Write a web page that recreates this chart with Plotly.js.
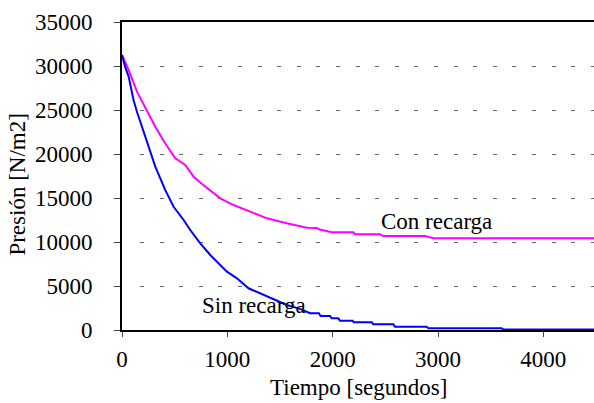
<!DOCTYPE html>
<html>
<head>
<meta charset="utf-8">
<script src="https://cdn.plot.ly/plotly-3.0.1.min.js"></script>
<style>
html,body{margin:0;padding:0;background:#fff;overflow:hidden;}
</style>
</head>
<body>
<div id="chart"></div>
<script>
// Sin recarga (blue)
var tSin = [0, 30, 63, 110, 142, 190, 253, 316, 411, 490, 585, 648, 743, 838, 996, 1091, 1201, 1376, 1565, 1690, 1785, 1870, 1885, 1975, 1991, 2053, 2070, 2190, 2200, 2371, 2386, 2576, 2592, 2893, 2908, 3605, 3620, 4481];
var pSin = [31250, 29900, 28800, 26100, 24800, 23100, 20800, 18560, 15900, 14000, 12500, 11360, 9850, 8520, 6625, 5870, 4740, 3785, 2840, 2400, 1900, 1900, 1590, 1590, 1325, 1325, 1060, 1060, 870, 870, 645, 645, 380, 380, 200, 200, 60, 60];
// Con recarga (magenta)
var tCon = [0, 63, 142, 221, 316, 411, 506, 600, 680, 760, 838, 933, 1059, 1217, 1376, 1564, 1754, 1850, 1870, 1991, 2196, 2212, 2449, 2481, 2877, 2956, 4481];
var pCon = [31250, 29550, 27080, 25190, 23100, 21200, 19500, 18750, 17420, 16600, 15900, 14960, 14200, 13450, 12690, 12125, 11630, 11600, 11450, 11100, 11100, 10870, 10870, 10680, 10680, 10420, 10420];
// tick values and labels
var xTicks = [0, 1000, 2000, 3000, 4000];
var yTicks = [0, 5000, 10000, 15000, 20000, 25000, 30000, 35000];
var seriesNames = ['Con recarga', 'Sin recarga'];
var xTitle = 'Tiempo [segundos]';
var yTitle = 'Presión [N/m2]';

var FONT = 'Liberation Serif';
var FS = 23;
var dash = '0px,18px';
for (var i = 0; i < 26; i++) dash += ',4px,15.6px';

var traces = [
  {x: tCon, y: pCon, type: 'scatter', mode: 'lines', name: seriesNames[0],
   line: {color: '#FF00FF', width: 2}},
  {x: tSin, y: pSin, type: 'scatter', mode: 'lines', name: seriesNames[1],
   line: {color: '#0000FF', width: 2}}
];

var layout = {
  width: 594, height: 403,
  margin: {l: 122, r: 0, t: 22, b: 73, pad: 0},
  paper_bgcolor: '#fff', plot_bgcolor: '#fff',
  showlegend: false,
  xaxis: {
    range: [0, 4481], tickvals: xTicks, ticktext: xTicks.map(String),
    showline: true, linecolor: '#000', linewidth: 2, mirror: true,
    ticks: 'outside', ticklen: 5, tickwidth: 1, tickcolor: '#444',
    showgrid: false, zeroline: false, ticklabelstandoff: 2,
    tickfont: {family: FONT, size: FS, color: '#000'}
  },
  yaxis: {
    range: [0, 35000], tickvals: yTicks, ticktext: yTicks.map(String),
    showline: true, linecolor: '#000', linewidth: 2,
    ticks: 'outside', ticklen: 6, tickwidth: 1, tickcolor: '#444',
    showgrid: true, gridcolor: '#666666', gridwidth: 1, griddash: dash,
    zeroline: false, ticklabelstandoff: 17,
    tickfont: {family: FONT, size: FS, color: '#000'}
  },
  annotations: [
    {text: seriesNames[0], x: 2986, y: 12350, xref: 'x', yref: 'y', showarrow: false,
     font: {family: FONT, size: FS, color: '#000'}},
    {text: seriesNames[1], x: 1253, y: 2770, xref: 'x', yref: 'y', showarrow: false,
     font: {family: FONT, size: FS, color: '#000'}},
    {text: xTitle, x: 0.5, y: -0.187, xref: 'paper', yref: 'paper', showarrow: false,
     xanchor: 'center', yanchor: 'middle', font: {family: FONT, size: FS, color: '#000'}},
    {text: yTitle, x: -0.221, y: 0.471, xref: 'paper', yref: 'paper', showarrow: false,
     textangle: -90, xanchor: 'center', yanchor: 'middle', font: {family: FONT, size: FS, color: '#000'}}
  ]
};

Plotly.newPlot('chart', traces, layout, {staticPlot: true});
</script>
</body>
</html>
